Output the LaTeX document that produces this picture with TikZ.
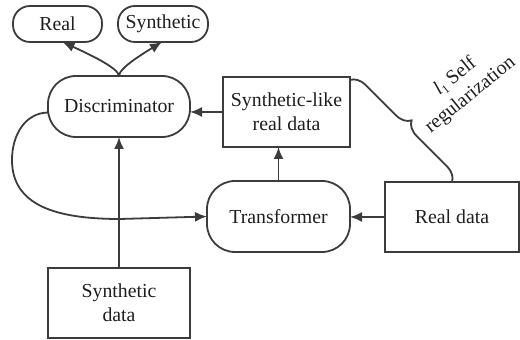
\documentclass[tikz,border=0pt]{standalone}
\usepackage{fontspec}
\setmainfont{Liberation Serif}
\usetikzlibrary{arrows.meta,decorations.pathreplacing,calc}
\definecolor{inkline}{HTML}{3C3C3C}
\definecolor{inktext}{HTML}{1E1E1E}
\tikzset{
  base/.style={draw=inkline, line width=0.9pt, text=inktext, inner sep=0pt, outer sep=0pt,
    font=\fontsize{9.9}{12}\selectfont, align=center},
  pill/.style={base, rounded corners=8.5pt},
  roundbox/.style={base, rounded corners=14pt},
  squarebox/.style={base},
  arr/.style={draw=inkline, line width=0.9pt, -{Latex[length=6pt,width=5pt]}},
  plainline/.style={draw=inkline, line width=0.9pt},
}
\begin{document}
\begin{tikzpicture}[x=0.5pt, y=-0.5pt]
  \useasboundingbox (0,0) rectangle (520,340);

  % output classes
  \node[pill, minimum width=44.5pt, minimum height=18pt] (real) at (57.5,24) {Real};
  \node[pill, minimum width=45pt, minimum height=18pt] (synth) at (163,24) {Synthetic};

  % processing blocks
  \node[roundbox, minimum width=71pt, minimum height=30.5pt] (disc) at (119,106.5) {Discriminator};
  \node[roundbox, minimum width=71.5pt, minimum height=35.5pt] (trans) at (278.5,216.5) {Transformer};

  % data blocks
  \node[squarebox, minimum width=63.5pt, minimum height=35pt] (slike) at (286.5,112) {Synthetic-like\\real data};
  \node[squarebox, minimum width=67pt, minimum height=35pt] (rdata) at (452,217) {Real data};
  \node[squarebox, minimum width=71pt, minimum height=35pt] (sdata) at (119,303) {Synthetic\\data};

  % discriminator outputs
  \coordinate (realtip) at ($(real.south)+(5,0)$);
  \coordinate (synthtip) at ($(synth.south)+(-1,0)$);
  \draw[arr] (disc.north) .. controls +(0,-8) and +(24,11) .. (realtip);
  \draw[arr] (disc.north) .. controls +(0,-8) and +(-18,11) .. (synthtip);

  % data flow
  \draw[arr] (slike.west) -- (disc.east |- slike.west);
  \draw[arr] (trans.north) -- (trans.north |- slike.south);
  \draw[arr] (rdata.west) -- (trans.east |- rdata.west);
  \draw[arr] (sdata.north) -- (disc.south);

  % feedback from discriminator to transformer
  \coordinate (dstart) at ($(disc.west)+(0,6)$);
  \draw[arr] (dstart) .. controls (25,113) and (12,135) .. (12,160)
             .. controls (12,205) and (55,219) .. (120,219) -- (trans.west);

  % self-regularization brace
  \draw[plainline, decorate, decoration={brace, amplitude=7.5pt}]
    ($(slike.north east)+(0,3)$) -- (rdata.north);
  \node[text=inktext, font=\fontsize{9.9}{12}\selectfont, align=center, rotate=39, inner sep=0pt]
    (reglabel) at (463,86) {\textit{l}\raisebox{-0.35ex}{\fontsize{6}{6}\selectfont 1} Self\\regularization};
\end{tikzpicture}
\end{document}
